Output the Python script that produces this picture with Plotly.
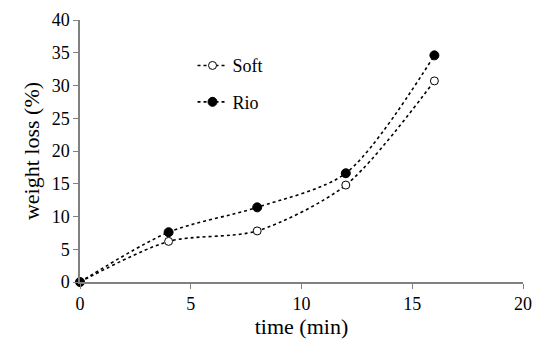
import plotly.graph_objects as go

time_min = [0, 4, 8, 12, 16]
soft = [0, 6.2, 7.8, 14.8, 30.7]
rio = [0, 7.6, 11.4, 16.6, 34.6]
x_ticks = [0, 5, 10, 15, 20]
y_ticks = [0, 5, 10, 15, 20, 25, 30, 35, 40]

FONT = "'Liberation Serif', 'Times New Roman', Times, serif"
AX = "#808080"

fig = go.Figure()
fig.add_trace(go.Scatter(
    x=time_min, y=soft, name="Soft", mode="lines+markers",
    line=dict(color="black", width=1.6, dash="dot", shape="spline", smoothing=0.8),
    marker=dict(symbol="circle", size=8, color="white", line=dict(color="black", width=1)),
    legendgroup="a", cliponaxis=False,
))
fig.add_trace(go.Scatter(
    x=time_min, y=rio, name="Rio", mode="lines+markers",
    line=dict(color="black", width=1.6, dash="dot", shape="spline", smoothing=0.8),
    marker=dict(symbol="circle", size=9, color="black", line=dict(color="black", width=1)),
    legendgroup="b", cliponaxis=False,
))

fig.update_layout(
    width=535, height=345,
    margin=dict(l=79.5, r=12, t=20, b=63, autoexpand=False),
    plot_bgcolor="white", paper_bgcolor="white",
    font=dict(family=FONT, size=18, color="black"),
    showlegend=True,
    legend=dict(x=0.254, y=0.896, xanchor="left", yanchor="top",
                bgcolor="rgba(0,0,0,0)", font=dict(family=FONT, size=18),
                traceorder="grouped", tracegroupgap=10),
    xaxis=dict(range=[0, 20], tickvals=x_ticks, showline=True, linecolor=AX, linewidth=1.5,
               ticks="outside", ticklen=5, tickcolor=AX, showgrid=False, zeroline=False,
               automargin=False,
               title=dict(text="time (min)", standoff=4), tickfont=dict(family=FONT, size=18)),
    yaxis=dict(range=[0, 40], tickvals=y_ticks, showline=True, linecolor=AX, linewidth=1.5,
               ticks="outside", ticklen=5, tickcolor=AX, showgrid=False, zeroline=False,
               automargin=False,
               title=dict(text="weight loss (%)", standoff=6), tickfont=dict(family=FONT, size=18)),
)

fig.write_html("out.html", config={"displayModeBar": False},
               post_script="document.body.style.margin='0';")
